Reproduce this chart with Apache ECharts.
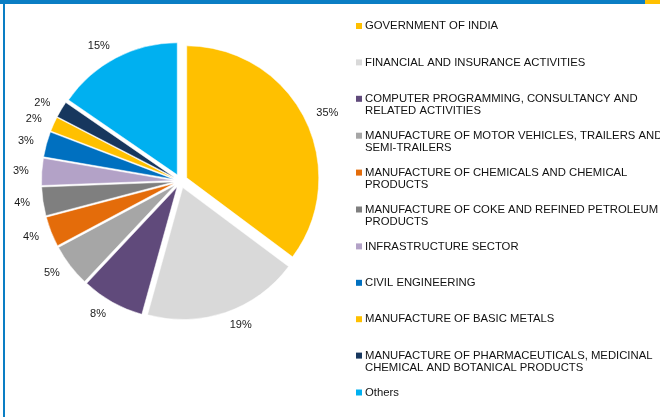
<!DOCTYPE html>
<html>
<head>
<meta charset="utf-8">
<script src="https://cdn.jsdelivr.net/npm/echarts@6/dist/echarts.min.js"></script>
<style>
  html, body { margin: 0; padding: 0; background: #fff; }
  #chart { width: 660px; height: 417px; }
</style>
</head>
<body>
<div id="chart"></div>
<script>
// ---- data ----
var categories = [
  "GOVERNMENT OF INDIA",
  "FINANCIAL AND INSURANCE ACTIVITIES",
  "COMPUTER PROGRAMMING, CONSULTANCY AND\nRELATED ACTIVITIES",
  "MANUFACTURE OF MOTOR VEHICLES, TRAILERS AND\nSEMI-TRAILERS",
  "MANUFACTURE OF CHEMICALS AND CHEMICAL\nPRODUCTS",
  "MANUFACTURE OF COKE AND REFINED PETROLEUM\nPRODUCTS",
  "INFRASTRUCTURE SECTOR",
  "CIVIL ENGINEERING",
  "MANUFACTURE OF BASIC METALS",
  "MANUFACTURE OF PHARMACEUTICALS, MEDICINAL\nCHEMICAL AND BOTANICAL PRODUCTS",
  "Others"
];
// shares (%); labels show them rounded
var shares = [35.2, 19.1, 7.7, 5.2, 3.7, 3.5, 3.3, 3.1, 1.8, 2.0, 15.4];
var colors = ["#FFC000", "#D9D9D9", "#604A7B", "#A6A6A6", "#E46C0A", "#7F7F7F",
              "#B3A2C7", "#0070C0", "#FFC000", "#17375E", "#00B0F0"];

var chart = echarts.init(document.getElementById('chart'), null, { renderer: 'canvas' });

var LH = 12.3;
var rich = {
  s: { width: 3, lineHeight: LH },
  i: { width: 9, lineHeight: LH },
  t: { fontSize: 11.3, fontFamily: 'Liberation Sans', color: '#111', lineHeight: LH }
};
colors.forEach(function (c, k) {
  rich['m' + k] = { width: 6, height: 6, backgroundColor: c, lineHeight: LH };
});

var pieData = categories.map(function (name, k) {
  return {
    name: name,
    value: shares[k],
    selected: true,
    itemStyle: { color: colors[k] }
  };
});

chart.setOption({
  animation: false,
  graphic: [
    { type: 'rect', shape: { x: 0, y: 0, width: 645, height: 4 }, style: { fill: '#0A7EC4' } },
    { type: 'rect', shape: { x: 645, y: 0, width: 15, height: 4 }, style: { fill: '#FFC000' } },
    { type: 'rect', shape: { x: 3, y: 0, width: 2, height: 417 }, style: { fill: '#0A7EC4' } }
  ],
  legend: {
    orient: 'vertical',
    left: 345,
    top: 15,
    itemWidth: 0,
    itemHeight: 0,
    itemGap: 12.6,
    selectedMode: false,
    data: categories,
    formatter: function (name) {
      var k = categories.indexOf(name);
      var lines = name.split('\n');
      var out = '{m' + k + '|}{s|}{t|' + lines[0] + '}\n';
      out += lines.length > 1 ? '{i|}{t|' + lines[1] + '}' : '{t| }';
      return out;
    },
    textStyle: { rich: rich }
  },
  series: [{
    type: 'pie',
    center: [180.5, 181],
    radius: 132,
    startAngle: 90,
    clockwise: true,
    selectedMode: 'multiple',
    selectedOffset: 7,
    avoidLabelOverlap: false,
    itemStyle: { borderColor: '#fff', borderWidth: 0.5 },
    label: {
      show: true,
      position: 'outside',
      formatter: function (p) { return Math.round(p.value) + '%'; },
      fontFamily: 'Liberation Sans',
      fontSize: 11,
      color: '#1a1a1a',
      distanceToLabelLine: 0
    },
    labelLine: { show: false, length: 13, length2: 0 },
    emphasis: { disabled: true },
    data: pieData
  }]
});
</script>
</body>
</html>
